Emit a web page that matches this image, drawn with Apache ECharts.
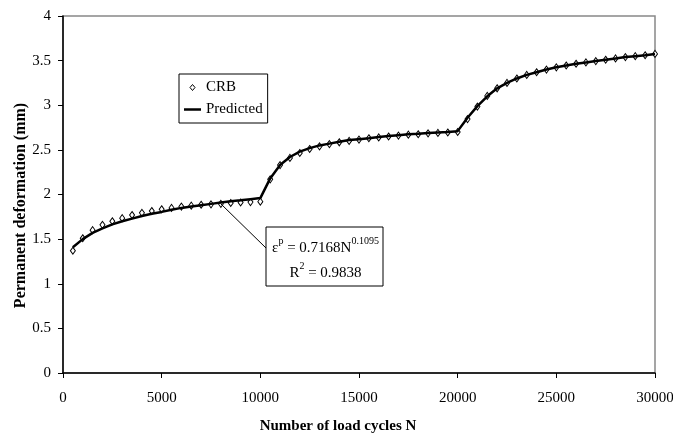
<!DOCTYPE html>
<html>
<head>
<meta charset="utf-8">
<script src="https://cdn.jsdelivr.net/npm/echarts@6/dist/echarts.min.js"></script>
<style>
  html, body { margin: 0; padding: 0; background: #fff; }
  #chart { width: 673px; height: 436px; }
</style>
</head>
<body>
<div id="chart"></div>
<script>
// Load cycles at which deformation was recorded
const cycles = [
  500, 1000, 1500, 2000, 2500, 3000, 3500, 4000, 4500, 5000,
  5500, 6000, 6500, 7000, 7500, 8000, 8500, 9000, 9500, 10000,
  10500, 11000, 11500, 12000, 12500, 13000, 13500, 14000, 14500, 15000,
  15500, 16000, 16500, 17000, 17500, 18000, 18500, 19000, 19500, 20000,
  20500, 21000, 21500, 22000, 22500, 23000, 23500, 24000, 24500, 25000,
  25500, 26000, 26500, 27000, 27500, 28000, 28500, 29000, 29500, 30000
];

// Measured permanent deformation (mm), CRB
const crbValues = [
  1.37, 1.51, 1.60, 1.66, 1.70, 1.735, 1.77, 1.795, 1.815, 1.835,
  1.85, 1.865, 1.875, 1.885, 1.89, 1.895, 1.905, 1.91, 1.915, 1.92,
  2.17, 2.33, 2.41, 2.465, 2.51, 2.54, 2.565, 2.585, 2.60, 2.615,
  2.63, 2.64, 2.65, 2.66, 2.67, 2.675, 2.685, 2.69, 2.695, 2.70,
  2.845, 2.985, 3.105, 3.19, 3.25, 3.30, 3.34, 3.37, 3.40, 3.425,
  3.445, 3.465, 3.48, 3.495, 3.51, 3.525, 3.54, 3.55, 3.56, 3.575
];

// Model prediction (mm)
const predictedValues = [
  1.41, 1.50, 1.57, 1.62, 1.665, 1.70, 1.73, 1.76, 1.785, 1.805,
  1.83, 1.85, 1.865, 1.88, 1.895, 1.91, 1.925, 1.935, 1.948, 1.96,
  2.18, 2.33, 2.42, 2.48, 2.52, 2.55, 2.57, 2.59, 2.61, 2.62,
  2.63, 2.645, 2.655, 2.665, 2.675, 2.68, 2.69, 2.695, 2.70, 2.71,
  2.86, 2.99, 3.10, 3.19, 3.25, 3.30, 3.34, 3.37, 3.40, 3.425,
  3.445, 3.465, 3.48, 3.495, 3.51, 3.525, 3.54, 3.55, 3.56, 3.575
];

const xTicks = { min: 0, max: 30000, interval: 5000 };
const yTicks = { min: 0, max: 4, interval: 0.5 };

// Regression annotation
const fitCycle = 8000;
const fitCoef = '0.7168';
const fitExp = '0.1095';
const fitR2 = '0.9838';

const serif = 'Liberation Serif';
const svgIcon = (body) => "image://data:image/svg+xml;utf8," + encodeURIComponent(
  "<svg xmlns='http://www.w3.org/2000/svg' width='17' height='14'>" + body + "</svg>");
const diamondIcon = svgIcon("<path d='M8.5 4 L11 7 L8.5 10 L6 7 Z' fill='white' stroke='black' stroke-width='1'/>");
const lineIcon = svgIcon("<line x1='0' y1='7' x2='17' y2='7' stroke='black' stroke-width='2.5'/>");

const chart = echarts.init(document.getElementById('chart'), null, { renderer: 'canvas' });

const crbData = cycles.map((c, i) => [c, crbValues[i]]);
const predData = cycles.map((c, i) => [c, predictedValues[i]]);

chart.setOption({
  animation: false,
  backgroundColor: '#fff',
  grid: {
    left: 63, right: 18, top: 16, bottom: 63,
    outerBoundsMode: 'none',
    containLabel: false,
    show: true, borderColor: '#888', borderWidth: 1.5, backgroundColor: 'transparent'
  },
  legend: {
    orient: 'vertical',
    left: 179, top: 74,
    padding: [6, 5, 6, 5],
    itemWidth: 17, itemHeight: 14, itemGap: 7,
    borderColor: '#000', borderWidth: 1,
    backgroundColor: '#fff',
    textStyle: { fontFamily: serif, fontSize: 15, color: '#000' },
    data: [
      { name: 'CRB', icon: diamondIcon },
      { name: 'Predicted', icon: lineIcon }
    ]
  },
  xAxis: {
    type: 'value',
    min: xTicks.min, max: xTicks.max, interval: xTicks.interval,
    name: 'Number of load cycles N',
    nameLocation: 'middle',
    nameGap: 46,
    nameMoveOverlap: false,
    nameTextStyle: { fontFamily: serif, fontSize: 15, fontWeight: 'bold', color: '#000', padding: [0, 42, 0, 0] },
    axisLine: { show: true, onZero: false, lineStyle: { color: '#000', width: 1.5 } },
    axisTick: { show: true, inside: false, length: 5, lineStyle: { color: '#000', width: 1 } },
    axisLabel: { fontFamily: serif, fontSize: 15, color: '#000', margin: 18, formatter: (v) => String(v) },
    splitLine: { show: false }
  },
  yAxis: {
    type: 'value',
    min: yTicks.min, max: yTicks.max, interval: yTicks.interval,
    name: 'Permanent deformation (mm)',
    nameLocation: 'middle',
    nameGap: 34,
    nameMoveOverlap: false,
    nameTextStyle: { fontFamily: serif, fontSize: 16, fontWeight: 'bold', color: '#000', padding: [0, 22, 0, 0] },
    axisLine: { show: true, lineStyle: { color: '#000', width: 1.5 } },
    axisTick: { show: true, inside: false, length: 5, lineStyle: { color: '#000', width: 1 } },
    axisLabel: { fontFamily: serif, fontSize: 15, color: '#000', margin: 12 },
    splitLine: { show: false }
  },
  series: [
    {
      name: 'CRB',
      type: 'scatter',
      data: crbData,
      symbol: 'diamond',
      symbolSize: [5, 7],
      itemStyle: { color: '#fff', borderColor: '#000', borderWidth: 1, opacity: 1 },
      z: 2
    },
    {
      name: 'Predicted',
      type: 'line',
      data: predData,
      symbol: 'none',
      lineStyle: { color: '#000', width: 2.5 },
      itemStyle: { color: '#000' },
      z: 3
    }
  ]
});

// Callout box with the fitted power law, linked to the data point it refers to
const box = { x: 266, y: 227, w: 117, h: 59 };
const anchorIdx = cycles.indexOf(fitCycle);
const anchor = chart.convertToPixel({ gridIndex: 0 }, [fitCycle, crbValues[anchorIdx]]);

chart.setOption({
  graphic: [
    {
      type: 'line',
      z: 10,
      shape: { x1: anchor[0], y1: anchor[1], x2: box.x, y2: box.y + 21 },
      style: { stroke: '#000', lineWidth: 1 }
    },
    {
      type: 'rect',
      z: 10,
      shape: { x: box.x, y: box.y, width: box.w, height: box.h },
      style: { fill: '#fff', stroke: '#000', lineWidth: 1 }
    },
    {
      type: 'text',
      z: 11,
      style: {
        x: box.x + box.w / 2 + 1,
        y: box.y + 9,
        align: 'center',
        textAlign: 'center',
        verticalAlign: 'top',
        fill: '#000',
        text: '{m|ε}{s|p}{m| = ' + fitCoef + 'N}{s|' + fitExp + '}\n{m|R}{s|2}{m| = ' + fitR2 + '}',
        rich: {
          m: { fontFamily: serif, fontSize: 15, lineHeight: 25, verticalAlign: 'middle', fill: '#000' },
          s: { fontFamily: serif, fontSize: 10, lineHeight: 10, verticalAlign: 'top', fill: '#000' }
        }
      }
    }
  ]
});
</script>
</body>
</html>
